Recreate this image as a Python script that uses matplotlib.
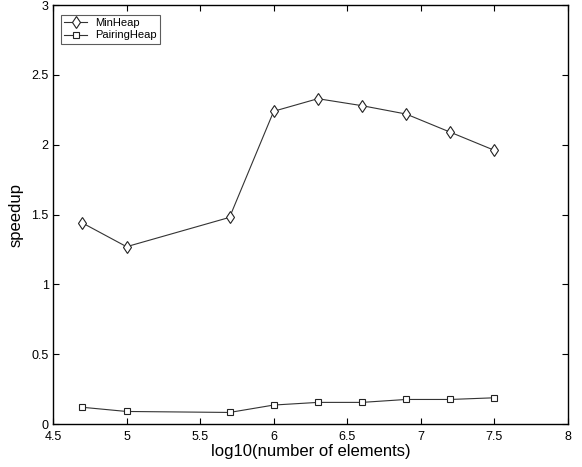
import matplotlib
matplotlib.use('Agg')
from matplotlib import pyplot as plt

plt.rcParams['font.family'] = ['Liberation Sans', 'DejaVu Sans']

log_n = [4.7, 5.0, 5.7, 6.0, 6.3, 6.6, 6.9, 7.2, 7.5]
minheap = [1.44, 1.27, 1.48, 2.24, 2.33, 2.28, 2.22, 2.09, 1.96]
pairingheap = [0.12, 0.09, 0.083, 0.136, 0.155, 0.155, 0.176, 0.176, 0.188]

fig = plt.figure(figsize=(5.82, 4.67), dpi=100)
ax = fig.add_axes([0.091, 0.092, 0.885, 0.897])

ax.plot(log_n, minheap, color='#333333', linewidth=0.8, marker='d',
        markersize=6, markerfacecolor='white', markeredgecolor='#222222',
        markeredgewidth=0.8, label='MinHeap')
ax.plot(log_n, pairingheap, color='#333333', linewidth=0.8, marker='s',
        markersize=5, markerfacecolor='white', markeredgecolor='#222222',
        markeredgewidth=0.8, label='PairingHeap')

ax.set_xlim(4.5, 8)
ax.set_ylim(0, 3)
ax.set_xticks([4.5, 5, 5.5, 6, 6.5, 7, 7.5, 8])
ax.set_xticklabels(['4.5', '5', '5.5', '6', '6.5', '7', '7.5', '8'])
ax.set_yticks([0, 0.5, 1, 1.5, 2, 2.5, 3])
ax.set_yticklabels(['0', '0.5', '1', '1.5', '2', '2.5', '3'])
ax.tick_params(direction='in', top=True, right=True, labelsize=9, length=4, width=0.8)
ax.tick_params(axis='x', pad=5)
ax.tick_params(axis='y', pad=3)
for s in ax.spines.values():
    s.set_linewidth(1.0)

ax.set_xlabel('log10(number of elements)', fontsize=12, labelpad=1)
ax.set_ylabel('speedup', fontsize=12, labelpad=6)

leg = ax.legend(loc='upper left', fontsize=8, frameon=True, fancybox=False,
                edgecolor='#333333', handlelength=2.0, borderpad=0.3,
                labelspacing=0.2, bbox_to_anchor=(0.005, 0.99))
leg.get_frame().set_linewidth(0.8)

fig.savefig('out.png', dpi=100)
